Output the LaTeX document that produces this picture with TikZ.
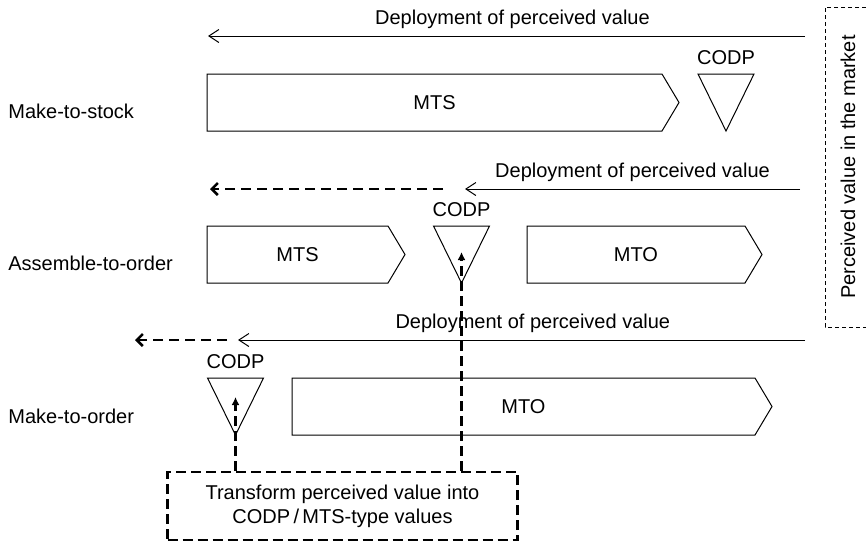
\documentclass[tikz,border=0pt]{standalone}
\usepackage{fontspec}
\setmainfont{Liberation Sans}
\usetikzlibrary{arrows.meta}

\begin{document}
\begin{tikzpicture}[x=.5pt,y=-.5pt, font=\fontsize{10}{12}\selectfont,
  stage/.style={draw, line width=.5pt, line join=miter},
  codp/.style={draw, line width=.5pt},
  valarrow/.style={line width=.5pt, -{Straight Barb[length=5pt,width=6.5pt]}},
  gaparrow/.style={line width=1.25pt, dash pattern=on 5pt off 3pt, -{Straight Barb[length=3pt,width=6pt]}},
  feed/.style={line width=1.25pt, dash pattern=on 5pt off 2.5pt, -{Latex[length=4pt,width=4pt]}},
  rowlabel/.style={anchor=west, inner sep=0pt}]

\useasboundingbox (0,0) rectangle (866,543);

% the three ways of working
\node[rowlabel] (mtsrow) at (8,111) {Make-to-stock};
\node[rowlabel] (atorow) at (8,263) {Assemble-to-order};
\node[rowlabel] (mtorow) at (8,416) {Make-to-order};

% stage boxes with a pointed end
\foreach \n/\xa/\xb/\ya/\yb/\txt in {mts1/207/662/74/131/MTS, mts2/207/388/226/283/MTS,
    mto2/527/745/226/283/MTO, mto3/292/755/378/435/MTO}{
  \draw[stage] (\xa,\ya) -- (\xb,\ya) -- ({\xb+17},{(\ya+\yb)/2}) -- (\xb,\yb) -- (\xa,\yb) -- cycle;
  \node (\n) at ({(\xa+\xb)/2},{(\ya+\yb)/2}) {\txt};
}

% decoupling points
\foreach \n/\cx/\ty in {1/726/74, 2/461.5/226, 3/235.5/378}{
  \draw[codp] ({\cx-28},\ty) -- ({\cx+28},\ty) -- (\cx,{\ty+57}) -- cycle;
  \node[above=1pt] (codp\n) at (\cx,\ty) {CODP};
}

% deployment of perceived value
\coordinate (dep1a) at (805,36);  \coordinate (dep1b) at (208,36);
\coordinate (dep2a) at (800,189); \coordinate (dep2b) at (465,189);
\coordinate (dep3a) at (805,340); \coordinate (dep3b) at (238,340);
\draw[valarrow] (dep1a) -- (dep1b) node[pos=.49, above] (lab1) {Deployment of perceived value};
\draw[valarrow] (dep2a) -- (dep2b) node[midway, above] (lab2) {Deployment of perceived value};
\draw[valarrow] (dep3a) -- (dep3b) node[pos=.48, above] (lab3) {Deployment of perceived value};

\coordinate (gap2a) at (443,189); \coordinate (gap2b) at (210,189);
\coordinate (gap3a) at (227,340); \coordinate (gap3b) at (135,340);
\draw[gaparrow] (gap2a) -- (gap2b);
\draw[gaparrow] (gap3a) -- (gap3b);

% market side
\draw[line width=.5pt, dash pattern=on 2pt off 1.5pt] (866,7) -- (825,7) -- (825,327) -- (866,327);
\node[rotate=90] (market) at (848,167) {Perceived value in the market};

% transformation box
\node[draw, line width=1.25pt, dash pattern=on 5pt off 2.5pt, minimum width=175pt,
  minimum height=34pt, align=center] (transform) at (342.5,506)
  {Transform perceived value into\\CODP\,/\,MTS-type values};

\coordinate (tip2) at (461.5,252);
\coordinate (tip3) at (235.5,397);
\draw[feed] (transform.north -| tip2) -- (tip2);
\draw[feed] (transform.north -| tip3) -- (tip3);

\end{tikzpicture}
\end{document}
